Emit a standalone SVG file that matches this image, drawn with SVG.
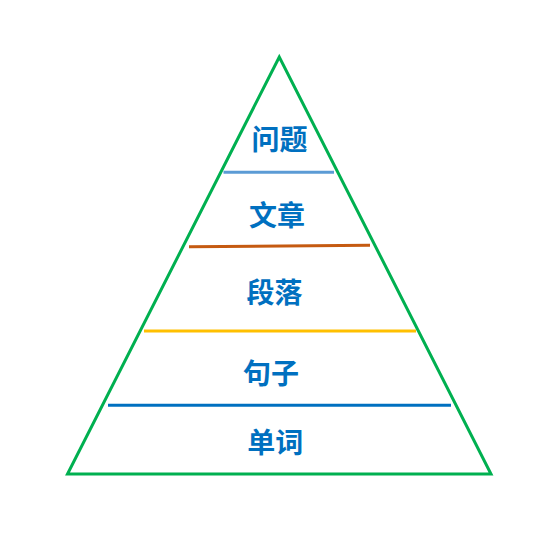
<svg xmlns="http://www.w3.org/2000/svg" width="556" height="538" viewBox="0 0 556 538">
<style>
.lbl{font-family:"Noto Sans CJK SC","Microsoft YaHei",sans-serif;font-weight:bold;font-size:28px;fill:#0070C0;text-anchor:middle}
.sep{stroke-width:3;fill:none}
</style>
<rect width="556" height="538" fill="#FFFFFF"/>
<g id="pyramid">
<polygon points="279.3,57 67.5,474 491,474" fill="none" stroke="#00B050" stroke-width="3" stroke-linejoin="miter"/>
</g>
<g id="connectors">
<line class="sep" x1="223.5" y1="172.3" x2="334" y2="172.3" stroke="#5B9BD5"/>
<line class="sep" x1="189" y1="246.8" x2="370" y2="245.2" stroke="#C55A11"/>
<line class="sep" x1="144" y1="331" x2="416" y2="331" stroke="#FFC000"/>
<line class="sep" x1="108" y1="405.3" x2="451" y2="405.3" stroke="#0070C0"/>
</g>
<g id="node-wenti"><text class="lbl" x="279.5" y="149.6">问题</text></g>
<g id="node-wenzhang"><text class="lbl" x="277" y="225.6">文章</text></g>
<g id="node-duanluo"><text class="lbl" x="274.5" y="302.6">段落</text></g>
<g id="node-juzi"><text class="lbl" x="271" y="383.6">句子</text></g>
<g id="node-danci"><text class="lbl" x="275.3" y="453">单词</text></g>
</svg>
